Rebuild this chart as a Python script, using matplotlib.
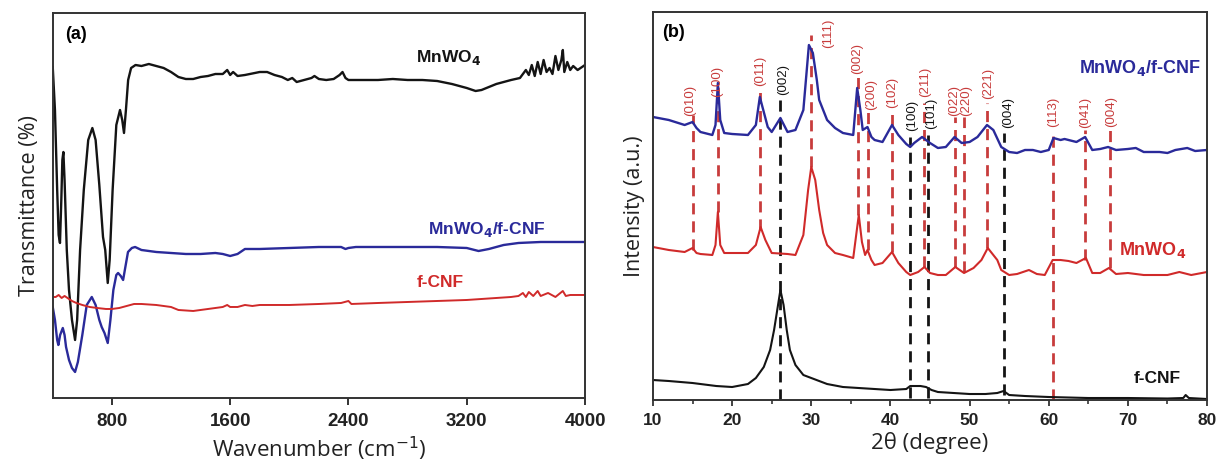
import numpy as np
import matplotlib
matplotlib.use("Agg")
import matplotlib.pyplot as plt

# ---------------- Panel (a): FTIR data ----------------
wn_mnwo4 = [400, 415, 430, 440, 449, 458, 465, 472, 480, 495, 510, 530, 551, 565, 585, 610, 640, 668,
            690, 715, 740, 755, 772, 785, 805, 830, 855, 870, 882, 895, 910, 930, 960, 1000, 1050, 1100,
            1150, 1200, 1250, 1300, 1350, 1400, 1450, 1500, 1550, 1580, 1600, 1620, 1650, 1700, 1800,
            1850, 1900, 1950, 1990, 2020, 2050, 2100, 2150, 2170, 2200, 2250, 2300, 2340, 2360, 2380,
            2400, 2450, 2500, 2600, 2700, 2800, 2900, 3000, 3100, 3200, 3260, 3300, 3400, 3500, 3560,
            3600, 3620, 3640, 3660, 3680, 3700, 3720, 3740, 3760, 3780, 3800, 3820, 3840, 3850, 3860,
            3880, 3900, 3920, 3950, 4000]
t_mnwo4 = [331, 288, 208, 163, 155, 198, 238, 246, 218, 148, 108, 78, 58, 78, 148, 208, 258, 270,
           258, 213, 161, 148, 115, 138, 208, 273, 288, 278, 265, 288, 318, 330, 333, 332, 334, 332,
           330, 326, 321, 319, 319, 321, 322, 324, 324, 328, 323, 326, 322, 323, 326,
           326, 323, 321, 318, 320, 316, 318, 320, 322, 319, 318, 319, 323, 326, 320,
           318, 318, 318, 318, 319, 318, 318, 317, 314, 310, 307, 308, 314, 318, 320,
           328, 323, 333, 322, 336, 324, 338, 326, 330, 324, 342, 328, 338, 348, 326,
           336, 328, 332, 328, 333]

wn_comp = [400, 415, 430, 438, 450, 468, 480, 490, 510, 530, 551, 570, 600, 630, 664, 690, 715, 731,
           750, 772, 790, 810, 830, 842, 860, 876, 890, 909, 935, 957, 1000, 1100, 1200, 1300, 1400,
           1500, 1550, 1600, 1650, 1700, 1800, 2000, 2200, 2350, 2380, 2400, 2450, 2600, 2800, 3000,
           3200, 3280, 3350, 3450, 3550, 3700, 4000]
t_comp = [91, 78, 58, 53, 63, 70, 63, 51, 38, 30, 26, 36, 63, 93, 101, 93, 78, 71,
          65, 55, 78, 108, 123, 125, 122, 118, 130, 146, 150, 151, 148, 146, 145, 144, 144,
          145, 144, 142, 144, 149, 149, 150, 151, 151, 149, 150, 151, 151, 151, 151,
          150, 147, 149, 153, 155, 156, 156]

wn_cnf = [400, 420, 440, 460, 480, 500, 530, 560, 600, 650, 700, 760, 800, 850, 900, 950, 1000, 1100,
          1200, 1250, 1350, 1450, 1550, 1580, 1600, 1650, 1700, 1750, 1800, 2000, 2200, 2350, 2400,
          2420, 2600, 2800, 3000, 3200, 3400, 3500, 3550, 3580, 3600, 3620, 3650, 3680, 3700, 3750,
          3800, 3850, 3870, 3900, 4000]
t_cnf = [101, 101, 103, 100, 102, 100, 97, 95, 93, 91, 90, 89, 89, 90, 92, 94, 94, 93,
         91, 88, 87, 89, 91, 93, 91, 91, 93, 92, 93, 93, 94, 95, 97,
         94, 95, 96, 97, 98, 100, 101, 102, 105, 101, 106, 102, 107, 102, 105,
         101, 107, 102, 103, 103]

ir_ticks = [800, 1600, 2400, 3200, 4000]

# ---------------- Panel (b): XRD data ----------------
tt_comp = [10, 12, 14, 15, 15.5, 16, 17.5, 17.9, 18.2, 18.5, 19, 20, 22, 23, 23.5, 24, 24.5, 25, 26.1,
           27, 28, 29, 29.7, 30.2, 30.7, 31, 32, 33, 34, 35.3, 35.8, 36.2, 36.5, 37.1, 37.6, 38, 39,
           40.2, 41, 42, 42.5, 43, 44, 45, 46, 47, 48.1, 49, 50, 51, 52.2, 53, 54, 55, 56, 57, 58, 59,
           60, 60.6, 61.5, 62, 63.5, 64.6, 65.5, 66.5, 67.5, 68.5, 70, 71, 72, 74, 75, 76, 77.5, 78.5, 80]
i_comp = [283, 280, 275, 278, 272, 268, 265, 275, 317, 280, 267, 266, 265, 275, 303, 288, 273, 268, 282,
          268, 270, 290, 355, 347, 320, 300, 280, 272, 267, 265, 312, 290, 270, 273, 263, 260, 258,
          275, 265, 256, 253, 257, 263, 257, 252, 253, 263, 257, 258, 263, 275, 270, 253, 248, 247, 250, 250, 248,
          250, 262, 260, 261, 258, 263, 250, 251, 253, 250, 251, 252, 248, 248, 247, 250, 252, 249, 250]

tt_mnwo4 = [10, 12, 14, 15, 15.5, 16, 17.5, 17.9, 18.2, 18.5, 19, 20, 22, 23, 23.6, 24.2, 25, 27, 28,
            29, 29.6, 30, 30.5, 31, 31.5, 32, 33, 34, 35.3, 36, 36.4, 36.8, 37.1, 37.6, 38, 39, 40.2,
            41, 42, 42.5, 43.5, 44.3, 45, 46, 47, 48.2, 49.3, 50.5, 51.5, 52.3, 53, 53.5, 54, 55, 56,
            57.5, 58.5, 59.5, 60.5, 61.5, 62.5, 63.5, 64.7, 65.5, 66.5, 67.6, 68.5, 70, 72, 74, 75,
            76.5, 78, 80]
i_mnwo4 = [153, 150, 148, 152, 147, 146, 145, 155, 188, 155, 147, 147, 147, 155, 173, 160, 147, 146, 145,
           165, 210, 233, 220, 190, 167, 155, 147, 145, 142, 185, 158, 145, 150, 140, 135, 137, 148,
           137, 128, 125, 128, 133, 127, 125, 125, 133, 127, 132, 140, 152, 145, 140, 130, 125, 126,
           130, 126, 125, 140, 140, 139, 137, 142, 127, 127, 132, 126, 127, 125, 125, 125,
           128, 125, 128]

tt_cnf = [10, 12, 15, 18, 20, 22, 23, 24, 24.8, 25.3, 25.7, 26.1, 26.5, 26.9, 27.3, 28, 29, 30, 32, 34,
          36, 38, 40, 42, 42.5, 43, 43.8, 44.5, 45.2, 46, 48, 50, 52, 53.5, 54.3, 55, 57, 60, 65, 70,
          75, 77, 77.3, 77.7, 80]
i_cnf = [20, 19, 17, 14, 13, 16, 22, 33, 50, 70, 90, 110, 95, 70, 50, 35, 25, 22, 16, 13,
         12, 11, 10, 11, 14, 14, 14, 13, 10, 8, 7, 6, 6, 7, 9, 5, 4, 3, 2, 2,
         1.5, 2, 5, 2, 1]

# reflections: (label, position, line top, line bottom)
mn_labels = ["(010)", "(100)", "(011)", "(111)", "(002)", "(200)", "(102)", "(211)", "(022)",
             "(220)", "(221)", "(113)", "(041)", "(004)"]
mn_pos = [15.0, 18.2, 23.5, 30.0, 35.9, 37.2, 40.2, 44.2, 48.2, 49.3, 52.2, 60.5, 64.6, 67.7]
mn_top = [285, 305, 315, 365, 325, 290, 290, 297, 283, 283, 297, 270, 270, 270]
mn_bot = [150, 188, 170, 233, 185, 150, 148, 133, 133, 128, 152, 0, 140, 132]
mn_lab_x = [14.7, 18.1, 23.5, 32.1, 35.8, 37.5, 40.2, 44.4, 48.0, 49.6, 52.3, 60.5, 64.6, 67.9]
mn_lab_y = [300, 319, 329, 367, 341, 305, 308, 318, 299, 299, 317, 288, 288, 288]

c_labels = ["(002)", "(100)", "(101)", "(004)"]
c_pos = [26.1, 42.5, 44.8, 54.4]
c_top = [305, 263, 265, 267]
c_bot = [0, 2, 2, 5]
c_lab_x = [26.4, 42.7, 45.1, 54.9]
c_lab_y = [320, 285, 287, 287]

xrd_major = [10, 20, 30, 40, 50, 60, 70, 80]
xrd_minor = [15, 25, 35, 45, 55, 65, 75]

BLACK = "#141414"
BLUE = "#2a2a9a"
RED = "#d02a2a"
DRED = "#c83c3c"
TICKFONT = "Liberation Sans"
LABFONT = "Open Sans"
DASH = (0, (4, 2.5))

fig = plt.figure(figsize=(12.18, 4.61), dpi=100)
axa = fig.add_axes([0.0433, 0.1367, 0.4370, 0.8351])
axb = fig.add_axes([0.5361, 0.1323, 0.4549, 0.8417])

# ---- panel a ----
axa.plot(wn_mnwo4, t_mnwo4, color=BLACK, lw=1.7)
axa.plot(wn_comp, t_comp, color=BLUE, lw=1.7)
axa.plot(wn_cnf, t_cnf, color=RED, lw=1.4)
axa.set_xlim(400, 4000)
axa.set_ylim(0, 385)
axa.set_xticks(ir_ticks)
axa.set_yticks([])
axa.tick_params(axis="x", direction="out", length=5, width=1.4, color="#333333", pad=6)
for lab in axa.get_xticklabels():
    lab.set_fontfamily(TICKFONT)
    lab.set_fontweight("bold")
    lab.set_fontsize(13.5)
    lab.set_color("#222222")
axa.set_xlabel("Wavenumber (cm$^{-1}$)", fontfamily=LABFONT, fontsize=16, labelpad=3, color="#222222")
axa.set_ylabel("Transmittance (%)", fontfamily=LABFONT, fontsize=15.5, labelpad=9, color="#222222")
axa.text(483, 363, "(a)", fontfamily=TICKFONT, fontweight="bold", fontsize=13, va="center", ha="left")
axa.text(3080, 340, "MnWO$_\\mathbf{4}$", fontfamily=TICKFONT, fontweight="bold", fontsize=12.5,
         color=BLACK, ha="center", va="center")
axa.text(3335, 168, "MnWO$_\\mathbf{4}$/f-CNF", fontfamily=TICKFONT, fontweight="bold", fontsize=12.5,
         color=BLUE, ha="center", va="center")
axa.text(3022, 115, "f-CNF", fontfamily=TICKFONT, fontweight="bold", fontsize=12.5,
         color=RED, ha="center", va="center")

# ---- panel b ----
for x, t, b in zip(mn_pos, mn_top, mn_bot):
    axb.vlines(x, b, t, colors=DRED, linestyles=DASH, lw=2.0, zorder=1)
for x, t, b in zip(c_pos, c_top, c_bot):
    axb.vlines(x, b, t, colors=BLACK, linestyles=DASH, lw=2.0, zorder=1)
axb.plot(tt_comp, i_comp, color=BLUE, lw=1.7, zorder=2)
axb.plot(tt_mnwo4, i_mnwo4, color=RED, lw=1.5, zorder=2)
axb.plot(tt_cnf, i_cnf, color=BLACK, lw=1.5, zorder=2)
for s, x, y in zip(mn_labels, mn_lab_x, mn_lab_y):
    axb.text(x, y, s, rotation=90, color=DRED, fontfamily=TICKFONT, fontsize=9.5,
             ha="center", va="center")
for s, x, y in zip(c_labels, c_lab_x, c_lab_y):
    axb.text(x, y, s, rotation=90, color=BLACK, fontfamily=TICKFONT, fontsize=9.5,
             ha="center", va="center")
axb.set_xlim(10, 80)
axb.set_ylim(0, 388)
axb.set_xticks(xrd_major)
axb.set_xticks(xrd_minor, minor=True)
axb.set_yticks([])
axb.tick_params(axis="x", which="major", direction="out", length=4, width=1.3, color="#333333", pad=5)
axb.tick_params(axis="x", which="minor", direction="out", length=3, width=1.2, color="#333333")
for lab in axb.get_xticklabels():
    lab.set_fontfamily(TICKFONT)
    lab.set_fontweight("bold")
    lab.set_fontsize(12.5)
    lab.set_color("#222222")
axb.set_xlabel("2θ (degree)", fontfamily=LABFONT, fontsize=16, labelpad=3, color="#222222")
axb.set_ylabel("Intensity (a.u.)", fontfamily=LABFONT, fontsize=15.5, labelpad=6, color="#222222")
axb.text(11.1, 367, "(b)", fontfamily=TICKFONT, fontweight="bold", fontsize=13, va="center", ha="left")
axb.text(71.5, 332, "MnWO$_\\mathbf{4}$/f-CNF", fontfamily=TICKFONT, fontweight="bold", fontsize=13,
         color=BLUE, ha="center", va="center")
axb.text(73.1, 150, "MnWO$_\\mathbf{4}$", fontfamily=TICKFONT, fontweight="bold", fontsize=13,
         color=RED, ha="center", va="center")
axb.text(73.7, 22, "f-CNF", fontfamily=TICKFONT, fontweight="bold", fontsize=12.5,
         color=BLACK, ha="center", va="center")

for ax in (axa, axb):
    for sp in ax.spines.values():
        sp.set_linewidth(1.4)
        sp.set_color("#333333")

fig.savefig("out.png", dpi=100)
